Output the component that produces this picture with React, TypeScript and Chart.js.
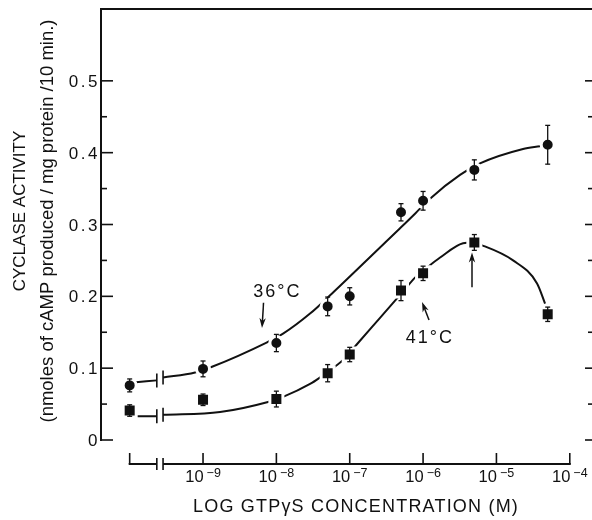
import React, { useEffect, useRef } from 'react';
import { Chart, registerables } from 'chart.js';

Chart.register(...registerables);

// ---- data ----
// GTPγS concentration (M); 0 = control without GTPγS (plotted left of the axis break)
const CONCENTRATIONS = [0, 1e-9, 1e-8, 5e-8, 1e-7, 5e-7, 1e-6, 5e-6, 5e-5];
const ACTIVITY_36C = [0.076, 0.099, 0.135, 0.186, 0.2, 0.317, 0.333, 0.376, 0.411];
const SEM_36C = [0.009, 0.011, 0.012, 0.013, 0.012, 0.012, 0.013, 0.014, 0.027];
const ACTIVITY_41C = [0.041, 0.056, 0.057, 0.093, 0.119, 0.208, 0.232, 0.275, 0.175];
const SEM_41C = [0.008, 0.008, 0.011, 0.012, 0.01, 0.014, 0.01, 0.011, 0.01];

// hand-drawn fitted curves (log10 concentration, activity); null = axis break
const FIT_36C_LOGX = [-9.95, -9.63, -9.59, -9.545, -9.109, -8.877, -8.127, -7.909, -7.541, -7.241, -6.587, -6.342, -6.11, -5.905, -5.496, -5.224, -4.637, -4.406];
const FIT_36C_Y = [0.08, 0.083, null, 0.087, 0.094, 0.102, 0.136, 0.148, 0.176, 0.204, 0.268, 0.292, 0.315, 0.336, 0.369, 0.385, 0.405, 0.409];
const FIT_41C_LOGX = [-9.9, -9.63, -9.59, -9.545, -8.768, -8.114, -7.909, -7.541, -7.378, -7.228, -7.064, -6.887, -6.587, -6.382, -6.246, -6.11, -5.946, -5.768, -5.455, -5.332, -5.196, -4.773, -4.446, -4.337];
const FIT_41C_Y = [0.033, 0.033, null, 0.035, 0.039, 0.053, 0.06, 0.078, 0.089, 0.1, 0.114, 0.135, 0.17, 0.194, 0.21, 0.226, 0.24, 0.254, 0.274, 0.275, 0.271, 0.25, 0.218, 0.19];

const CONTROL_LOG = -10;
const AXIS_BREAK_LOG = [-9.63, -9.545];
const X_TICKS = [-9, -8, -7, -6, -5, -4];
const X_TICK_EXPONENTS = ['\u22129', '\u22128', '\u22127', '\u22126', '\u22125', '\u22124'];
const Y_TICKS = [0, 0.05, 0.1, 0.15, 0.2, 0.25, 0.3, 0.35, 0.4, 0.45, 0.5];
const Y_TICK_LABELS = ['0', '', '0.1', '', '0.2', '', '0.3', '', '0.4', '', '0.5'];

const X_TITLE = 'LOG GTP\u03B3S CONCENTRATION (M)';
const Y_TITLE = ['CYCLASE ACTIVITY', '(nmoles of cAMP produced / mg protein /10 min.)'];

// annotations in data units [log10 conc, activity]
const LABEL_36C = { text: '36\u00B0C', at: [-8.0, 0.199] };
const LABEL_41C = { text: '41\u00B0C', at: [-5.92, 0.135] };
const ARROWS = [
  { from: [-8.175, 0.191], to: [-8.196, 0.156] },
  { from: [-5.919, 0.167], to: [-6.014, 0.192] },
  { from: [-5.333, 0.2125], to: [-5.333, 0.261] },
];

const FONT = '"Liberation Sans", Arial, Helvetica, sans-serif';
const INK = '#111';

const toLog = (c: number) => (c === 0 ? CONTROL_LOG : Math.log10(c));

function seg(ctx: CanvasRenderingContext2D, x1: number, y1: number, x2: number, y2: number) {
  ctx.beginPath();
  ctx.moveTo(x1, y1);
  ctx.lineTo(x2, y2);
  ctx.stroke();
}

function arrow(ctx: CanvasRenderingContext2D, x1: number, y1: number, x2: number, y2: number) {
  const a = Math.atan2(y2 - y1, x2 - x1);
  const L = 10, W = 3.2;
  const c = Math.cos(a), s = Math.sin(a);
  seg(ctx, x1, y1, x2 - c * 4, y2 - s * 4);
  ctx.beginPath();
  ctx.moveTo(x2, y2);
  ctx.lineTo(x2 - L * c + W * s, y2 - L * s - W * c);
  ctx.lineTo(x2 - L * c * 0.7, y2 - L * s * 0.7);
  ctx.lineTo(x2 - L * c - W * s, y2 - L * s + W * c);
  ctx.closePath();
  ctx.fill();
}

function spaced(ctx: any, px: number) {
  if ('letterSpacing' in ctx) ctx.letterSpacing = `${px}px`;
}

const decorPlugin = {
  id: 'decor',
  afterDraw(chart: any) {
    const { ctx, chartArea: a } = chart;
    const xs = chart.scales.x;
    const ys = chart.scales.y;
    const px = (v: number) => xs.getPixelForValue(v);
    const py = (v: number) => ys.getPixelForValue(v);
    ctx.save();
    ctx.strokeStyle = INK;
    ctx.fillStyle = INK;
    ctx.lineCap = 'butt';

    // error bars
    ctx.lineWidth = 1.3;
    const bars = (vals: number[], errs: number[]) => {
      CONCENTRATIONS.forEach((c, i) => {
        const x = px(toLog(c));
        const t = py(vals[i] + errs[i]);
        const b = py(vals[i] - errs[i]);
        seg(ctx, x, t, x, b);
        seg(ctx, x - 2.5, t, x + 2.5, t);
        seg(ctx, x - 2.5, b, x + 2.5, b);
      });
    };
    bars(ACTIVITY_36C, SEM_36C);
    bars(ACTIVITY_41C, SEM_41C);

    // frame: left axis + top border
    ctx.lineWidth = 2;
    seg(ctx, a.left, a.top, a.left, a.bottom + 1);
    seg(ctx, a.left - 1, a.top, a.right, a.top);
    // y ticks (inward) left and right, labels on the left
    ctx.font = `17px ${FONT}`;
    ctx.textAlign = 'right';
    ctx.textBaseline = 'alphabetic';
    spaced(ctx, 2.5);
    Y_TICKS.forEach((v, i) => {
      const major = Y_TICK_LABELS[i] !== '';
      const y = py(v);
      ctx.lineWidth = 1.6;
      seg(ctx, a.left, y, a.left + (major ? 12 : 6), y);
      seg(ctx, a.right - (major ? 7 : 4), y, a.right, y);
      if (major) ctx.fillText(Y_TICK_LABELS[i], a.left - 1, y + 6);
    });
    spaced(ctx, 0);

    // detached x axis with break
    const yAx = a.bottom + 24;
    ctx.lineWidth = 2;
    seg(ctx, px(CONTROL_LOG) - 1, yAx, px(AXIS_BREAK_LOG[0]), yAx);
    seg(ctx, px(AXIS_BREAK_LOG[1]), yAx, px(X_TICKS[X_TICKS.length - 1]) + 1, yAx);
    ctx.lineWidth = 1.6;
    [CONTROL_LOG, ...X_TICKS].forEach((v) => seg(ctx, px(v), yAx, px(v), yAx - 11));
    AXIS_BREAK_LOG.forEach((v) => seg(ctx, px(v), yAx - 6, px(v), yAx + 6));

    // break marks on curves
    const curveBreaks = (lx: number[], ly: (number | null)[]) => {
      AXIS_BREAK_LOG.forEach((b) => {
        const i = lx.indexOf(b);
        const y = py(ly[i] as number);
        seg(ctx, px(b), y - 7, px(b), y + 7);
      });
    };
    curveBreaks(FIT_36C_LOGX, FIT_36C_Y);
    curveBreaks(FIT_41C_LOGX, FIT_41C_Y);

    // x tick labels 10^n
    ctx.textAlign = 'left';
    X_TICKS.forEach((v, i) => {
      const base = '10';
      const exp = X_TICK_EXPONENTS[i];
      ctx.font = `16.5px ${FONT}`;
      const w1 = ctx.measureText(base).width;
      ctx.font = `12.5px ${FONT}`;
      const w2 = ctx.measureText(exp).width;
      const gap = 3;
      const x0 = px(v) - (w1 + gap + w2) / 2;
      ctx.font = `16.5px ${FONT}`;
      ctx.fillText(base, x0, yAx + 17.5);
      ctx.font = `12.5px ${FONT}`;
      ctx.fillText(exp, x0 + w1 + gap, yAx + 13);
    });

    // x title
    ctx.font = `18px ${FONT}`;
    ctx.textAlign = 'center';
    spaced(ctx, 1.2);
    ctx.fillText(X_TITLE, 356, 512);
    spaced(ctx, 0);

    // y title (rotated, two lines)
    const yTitle = (text: string, size: number, bx: number, cy: number) => {
      ctx.save();
      ctx.translate(bx, cy);
      ctx.rotate(-Math.PI / 2);
      ctx.font = `${size}px ${FONT}`;
      ctx.textAlign = 'center';
      ctx.fillText(text, 0, 0);
      ctx.restore();
    };
    yTitle(Y_TITLE[0], 17, 25, 211);
    yTitle(Y_TITLE[1], 18.5, 53, 221);

    // annotations
    ctx.font = `18px ${FONT}`;
    ctx.textAlign = 'center';
    spaced(ctx, 2);
    [LABEL_36C, LABEL_41C].forEach((l) => ctx.fillText(l.text, px(l.at[0]) + 1, py(l.at[1])));
    spaced(ctx, 0);
    ctx.lineWidth = 1.5;
    ARROWS.forEach((ar) => arrow(ctx, px(ar.from[0]), py(ar.from[1]), px(ar.to[0]), py(ar.to[1])));

    ctx.restore();
  },
};

export default function App() {
  const ref = useRef<HTMLCanvasElement | null>(null);
  useEffect(() => {
    if (!ref.current) return;
    const pts = (vals: number[]) => CONCENTRATIONS.map((c, i) => ({ x: toLog(c), y: vals[i] }));
    const fit = (lx: number[], ly: (number | null)[]) => lx.map((x, i) => ({ x, y: ly[i] }));
    const chart = new Chart(ref.current, {
      type: 'scatter',
      data: {
        datasets: [
          {
            label: '36°C',
            data: pts(ACTIVITY_36C),
            pointStyle: 'circle',
            pointRadius: 6.5,
            pointBackgroundColor: INK,
            pointBorderColor: '#fff',
            pointBorderWidth: 3,
            showLine: false,
            order: 0,
          },
          {
            label: '41°C',
            data: pts(ACTIVITY_41C),
            pointStyle: 'rect',
            pointRadius: 9.2,
            pointBackgroundColor: INK,
            pointBorderColor: '#fff',
            pointBorderWidth: 3,
            showLine: false,
            order: 0,
          },
          {
            label: 'fit 36°C',
            data: fit(FIT_36C_LOGX, FIT_36C_Y),
            showLine: true,
            borderColor: INK,
            borderWidth: 2,
            pointRadius: 0,
            cubicInterpolationMode: 'monotone',
            spanGaps: false,
            order: 1,
          },
          {
            label: 'fit 41°C',
            data: fit(FIT_41C_LOGX, FIT_41C_Y),
            showLine: true,
            borderColor: INK,
            borderWidth: 2,
            pointRadius: 0,
            cubicInterpolationMode: 'monotone',
            spanGaps: false,
            order: 1,
          },
        ] as any,
      },
      options: {
        animation: false,
        responsive: false,
        devicePixelRatio: 1,
        layout: { autoPadding: false, padding: { top: 9, right: 0, bottom: 0, left: 0 } },
        plugins: { legend: { display: false }, tooltip: { enabled: false } },
        scales: {
          x: {
            type: 'linear',
            min: -10.391,
            max: -3.697,
            grid: { display: false, drawTicks: false },
            border: { display: false },
            ticks: { display: false },
            afterBuildTicks: (s: any) => {
              s.ticks = X_TICKS.map((v) => ({ value: v }));
            },
            afterFit: (s: any) => {
              s.height = 80;
            },
          },
          y: {
            type: 'linear',
            min: 0,
            max: 0.6,
            grid: { display: false, drawTicks: false },
            border: { display: false },
            ticks: { display: false },
            afterBuildTicks: (s: any) => {
              s.ticks = Y_TICKS.map((v) => ({ value: v }));
            },
            afterFit: (s: any) => {
              s.width = 101;
            },
          },
        },
      } as any,
      plugins: [decorPlugin],
    });
    return () => chart.destroy();
  }, []);
  return (
    <div style={{ position: 'fixed', left: 0, top: 0, width: 592, height: 520, background: '#fff' }}>
      <canvas ref={ref} width={592} height={520} style={{ display: 'block' }} />
    </div>
  );
}
